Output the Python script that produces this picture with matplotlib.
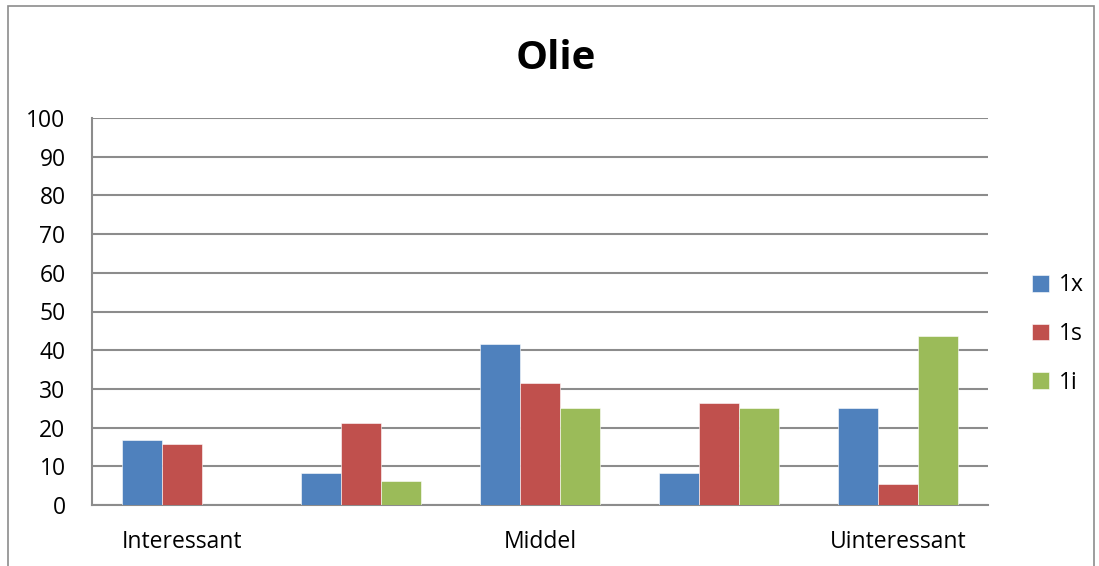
import numpy as np
import matplotlib.pyplot as plt
from matplotlib.patches import Rectangle

# 数据
categories = ["Interessant", "", "Middel", "", "Uinteressant"]
series_names = ["1x", "1s", "1i"]
values_1x = [16.7, 8.3, 41.7, 8.3, 25.0]
values_1s = [15.8, 21.1, 31.6, 26.3, 5.3]
values_1i = [0.0, 6.25, 25.0, 25.0, 43.75]
colors = ["#4F81BD", "#C0504D", "#9BBB59"]

plt.rcParams["font.family"] = ["Open Sans", "DejaVu Sans"]

fig = plt.figure(figsize=(10.99, 5.66), dpi=100)
ax = fig.add_axes([92 / 1099, 1 - 505 / 566, 896 / 1099, 387 / 566])

x = np.arange(len(categories))
width = 0.223
all_values = [values_1x, values_1s, values_1i]
for i, (vals, name) in enumerate(zip(all_values, series_names)):
    ax.bar(x + (i - 1) * width, vals, width, color=colors[i], label=name,
           edgecolor="white", linewidth=0.4, zorder=3)

ax.set_xlim(-0.5, len(categories) - 0.5)
ax.set_ylim(0, 100)
ax.set_yticks(np.arange(0, 101, 10))
ax.set_xticks(x)
ax.set_xticklabels(categories)
ax.grid(axis="y", color="#8c8c8c", linewidth=1.5, zorder=0)
ax.tick_params(length=0, labelsize=16.5)
ax.tick_params(axis="y", pad=19)
ax.tick_params(axis="x", pad=18)
for side in ["top", "right"]:
    ax.spines[side].set_visible(False)
for side in ["left", "bottom"]:
    ax.spines[side].set_color("#8c8c8c")
    ax.spines[side].set_linewidth(1.5)

fig.text(556 / 1099, 1 - 58 / 566, "Olie", ha="center", va="center",
         fontsize=29, fontweight="bold")

ax.legend(loc="center left", bbox_to_anchor=(1.026, 0.442), frameon=False,
          fontsize=16.5, handlelength=0.75, handleheight=0.75, labelspacing=1.08,
          handletextpad=0.45)

# 外框
fig.patches.append(Rectangle((8 / 1099, -0.1), (1094 - 8) / 1099, 1.1 - 6 / 566,
                             transform=fig.transFigure, fill=False,
                             edgecolor="#8c8c8c", linewidth=1.2))

fig.savefig("out.png", dpi=100)
